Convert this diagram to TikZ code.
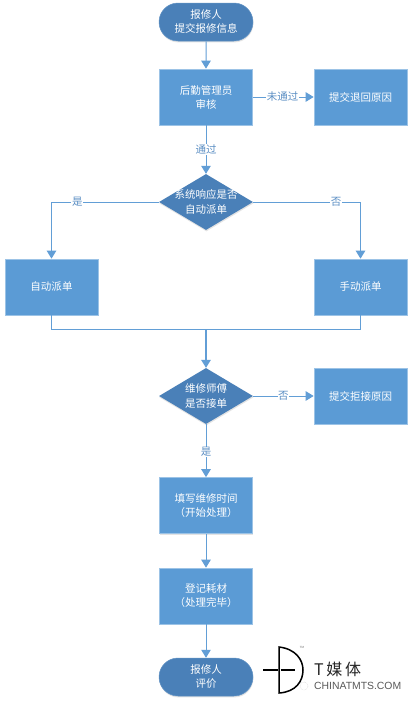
\documentclass[tikz,border=0pt]{standalone}
\usepackage{fontspec}
\setmainfont{Noto Sans CJK SC}
\newfontfamily\latinf{Liberation Sans}
\usetikzlibrary{shapes.geometric,shapes.misc,arrows.meta,shadows}
\definecolor{boxblue}{HTML}{5B9BD5}
\definecolor{darkblue}{HTML}{4A80B8}
\definecolor{edgeblue}{HTML}{629ED6}
\definecolor{rimblue}{HTML}{9CC3E6}
\definecolor{labelblue}{HTML}{5C8FC4}
\tikzset{
  softshadow/.style={drop shadow={shadow xshift=0.4pt,shadow yshift=-1.4pt,opacity=.22,fill=gray}},
  basenode/.style={inner sep=0pt,text=white,font=\fontsize{10.5}{14}\selectfont,align=center,softshadow},
  procbox/.style={basenode,rectangle,fill=boxblue,draw=rimblue,line width=0.7pt,minimum width=93pt,minimum height=56pt},
  termbox/.style={basenode,rounded rectangle,fill=darkblue,draw=darkblue!70!rimblue,line width=0.5pt,minimum width=94pt,minimum height=38pt},
  decbox/.style={inner sep=0pt,diamond,aspect=1.68,fill=darkblue,minimum width=94pt,minimum height=56pt,softshadow},
  inlabel/.style={text=white,font=\fontsize{10.5}{14.5}\selectfont,align=center,inner sep=0pt},
  link/.style={draw=edgeblue,line width=1pt,-{Triangle[length=8pt,width=9.5pt,fill=edgeblue]}},
  plainlink/.style={draw=edgeblue,line width=1pt},
  edgetext/.style={fill=white,text=labelblue,font=\fontsize{10.5}{12}\selectfont,inner sep=0.6pt}
}
\begin{document}
\begin{tikzpicture}[x=1pt,y=-1pt]
\useasboundingbox[fill=white] (0,0) rectangle (413,704);
\node[termbox] (start) at (206,22) {报修人\\提交报修信息};
\node[procbox] (audit) at (206,97) {后勤管理员\\审核};
\node[procbox] (back) at (360.5,97) {提交退回原因};
\node[decbox,label={[inlabel]center:系统响应是否\\自动派单}] (dec1) at (206,202) {};
\node[procbox] (auto) at (51.5,287) {自动派单};
\node[procbox] (manual) at (360.5,287) {手动派单};
\coordinate (merge) at (206,329);
\node[decbox,label={[inlabel]center:维修师傅\\是否接单}] (dec2) at (206,396) {};
\node[procbox] (refuse) at (360.5,396) {提交拒接原因};
\node[procbox] (fillin) at (206,505.5) {填写维修时间\\（开始处理）};
\node[procbox] (material) at (206,596) {登记耗材\\（处理完毕）};
\node[termbox] (finish) at (206,677) {报修人\\评价};

\draw[link] (start) -- (audit);
\draw[link] (audit) -- node[edgetext,pos=.49]{未通过} (back);
\draw[link] (audit) -- node[edgetext,pos=.5]{通过} (dec1);
\draw[link] (dec1.west) -| node[edgetext,pos=.38]{是} (auto.north);
\draw[link] (dec1.east) -| node[edgetext,pos=.386]{否} (manual.north);
\draw[plainlink] (auto.south) |- (merge);
\draw[plainlink] (manual.south) |- (merge);
\draw[link,line width=1.4pt] (merge) -- (dec2.north);
\draw[link] (dec2) -- node[edgetext,pos=.5]{否} (refuse);
\draw[link] (dec2) -- node[edgetext,pos=.52]{是} (fillin);
\draw[link] (fillin) -- (material);
\draw[link] (material) -- (finish);

% logo
\draw[black,line width=1.5pt] (279,647) .. controls (296,649) and (303,660) .. (303,670) .. controls (303,681) and (296,692) .. (279,693) -- cycle;
\draw[black,line width=1.5pt] (263,670) -- (277.5,670) (280.5,670) -- (295,670);
\node[inner sep=0pt,text=black!55,font=\latinf\fontsize{3}{3}\selectfont] (tm) at (302,647.5) {TM};
\node[inner sep=0pt,text=black!85,font=\fontsize{16}{17}\selectfont,anchor=west] (brand) at (314,669) {T\,媒\,体};
\node[inner sep=0pt,text=black!65,font=\latinf\fontsize{10.4}{11}\selectfont,anchor=west] (site) at (314,686) {CHINATMTS.COM};
\draw[black!25,densely dotted] (304,686) circle (4pt);
\end{tikzpicture}
\end{document}
